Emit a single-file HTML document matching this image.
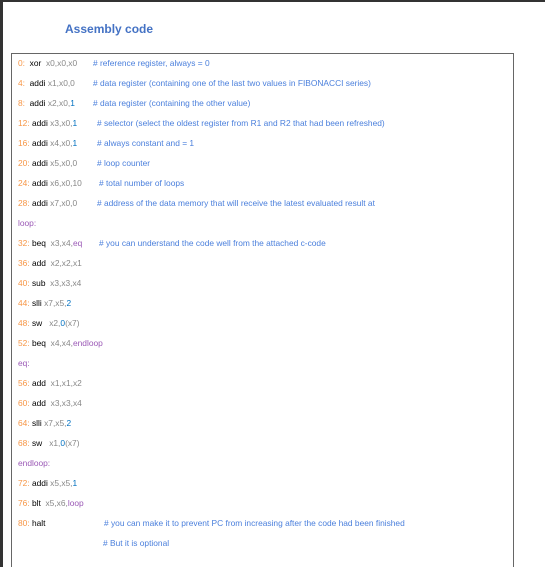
<!DOCTYPE html>
<html><head><style>
html,body{margin:0;width:545px;height:567px;overflow:hidden;}
body{background:#fff;position:relative;font-family:"Liberation Sans",sans-serif;}
.tb{position:absolute;left:0;top:0;width:545px;height:2px;background:#333;}
.lb{position:absolute;left:0;top:0;width:3px;height:567px;background:#333;}
.title{position:absolute;left:65px;top:22px;font-size:12px;font-weight:bold;color:#4472c4;}
.box{position:absolute;left:11px;top:53px;width:501px;height:520px;border:1px solid #666;}
.l{position:absolute;left:18px;font-size:8.4px;line-height:10px;white-space:pre;color:#000;}
.n{color:#f79646}.o{color:#888}.i{color:#0070c0}.p{color:#9b59b6}
.c{position:absolute;font-size:8.4px;line-height:10px;color:#4a7fdc;white-space:pre;}
</style></head><body>
<div class="tb"></div><div class="lb"></div>
<div class="title">Assembly code</div>
<div class="box"></div>
<div class="l" style="top:58px"><span class="n">0:</span>  xor  <span class="o">x0,x0,x0</span></div><div class="c" style="left:93px;top:58px"># reference register, always = 0</div>
<div class="l" style="top:78px"><span class="n">4:</span>  addi <span class="o">x1,x0,0</span></div><div class="c" style="left:93px;top:78px"># data register (containing one of the last two values in FIBONACCI series)</div>
<div class="l" style="top:98px"><span class="n">8:</span>  addi <span class="o">x2,x0,</span><span class="i">1</span></div><div class="c" style="left:93px;top:98px"># data register (containing the other value)</div>
<div class="l" style="top:118px"><span class="n">12:</span> addi <span class="o">x3,x0,</span><span class="i">1</span></div><div class="c" style="left:97px;top:118px"># selector (select the oldest register from R1 and R2 that had been refreshed)</div>
<div class="l" style="top:138px"><span class="n">16:</span> addi <span class="o">x4,x0,</span><span class="i">1</span></div><div class="c" style="left:97px;top:138px"># always constant and = 1</div>
<div class="l" style="top:158px"><span class="n">20:</span> addi <span class="o">x5,x0,0</span></div><div class="c" style="left:97px;top:158px"># loop counter</div>
<div class="l" style="top:178px"><span class="n">24:</span> addi <span class="o">x6,x0,10</span></div><div class="c" style="left:99px;top:178px"># total number of loops</div>
<div class="l" style="top:198px"><span class="n">28:</span> addi <span class="o">x7,x0,0</span></div><div class="c" style="left:97px;top:198px"># address of the data memory that will receive the latest evaluated result at</div>
<div class="l p" style="top:218px">loop:</div>
<div class="l" style="top:238px"><span class="n">32:</span> beq  <span class="o">x3,x4,</span><span class="p">eq</span></div><div class="c" style="left:99px;top:238px"># you can understand the code well from the attached c-code</div>
<div class="l" style="top:258px"><span class="n">36:</span> add  <span class="o">x2,x2,x1</span></div>
<div class="l" style="top:278px"><span class="n">40:</span> sub  <span class="o">x3,x3,x4</span></div>
<div class="l" style="top:298px"><span class="n">44:</span> slli <span class="o">x7,x5,</span><span class="i">2</span></div>
<div class="l" style="top:318px"><span class="n">48:</span> sw   <span class="o">x2,</span><span class="i">0</span><span class="o">(x7)</span></div>
<div class="l" style="top:338px"><span class="n">52:</span> beq  <span class="o">x4,x4,</span><span class="p">endloop</span></div>
<div class="l p" style="top:358px">eq:</div>
<div class="l" style="top:378px"><span class="n">56:</span> add  <span class="o">x1,x1,x2</span></div>
<div class="l" style="top:398px"><span class="n">60:</span> add  <span class="o">x3,x3,x4</span></div>
<div class="l" style="top:418px"><span class="n">64:</span> slli <span class="o">x7,x5,</span><span class="i">2</span></div>
<div class="l" style="top:438px"><span class="n">68:</span> sw   <span class="o">x1,</span><span class="i">0</span><span class="o">(x7)</span></div>
<div class="l p" style="top:458px">endloop:</div>
<div class="l" style="top:478px"><span class="n">72:</span> addi <span class="o">x5,x5,</span><span class="i">1</span></div>
<div class="l" style="top:498px"><span class="n">76:</span> blt  <span class="o">x5,x6,</span><span class="p">loop</span></div>
<div class="l" style="top:518px"><span class="n">80:</span> halt</div><div class="c" style="left:104px;top:518px"># you can make it to prevent PC from increasing after the code had been finished</div>
<div class="c" style="left:103px;top:538px"># But it is optional</div>
</body></html>
